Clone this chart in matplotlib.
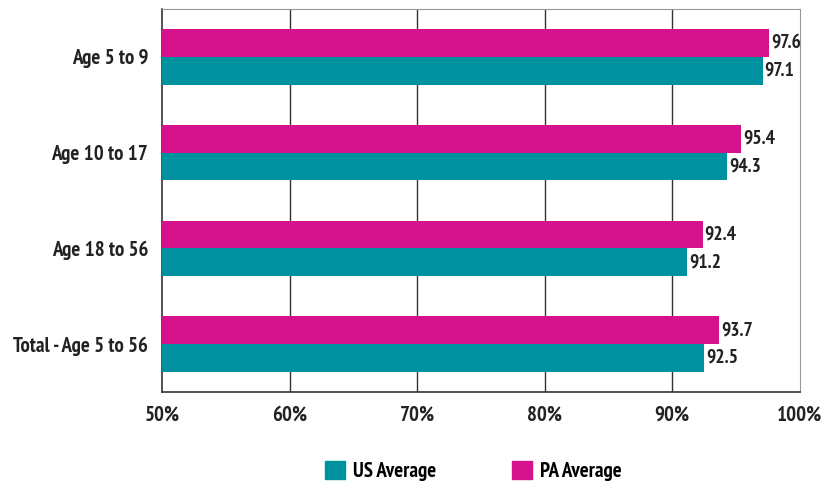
import numpy as np
import matplotlib
matplotlib.use('Agg')
import matplotlib.pyplot as plt
from matplotlib.patches import Patch

plt.rcParams['font.family'] = ['PT Sans Narrow', 'Roboto Condensed', 'DejaVu Sans']
plt.rcParams['font.weight'] = 'bold'

categories = ['Age 5 to 9', 'Age 10 to 17', 'Age 18 to 56', 'Total - Age 5 to 56']
us_avg = [97.1, 94.3, 91.2, 92.5]
pa_avg = [97.6, 95.4, 92.4, 93.7]
xticks = [50, 60, 70, 80, 90, 100]

teal = '#00919f'
pink = '#d5118b'

fig = plt.figure(figsize=(8.27, 4.87), dpi=100)
ax = fig.add_axes([0.196, 0.195, 0.771, 0.7865])

y = np.arange(len(categories))
h = 0.29
ax.barh(y + h / 2, us_avg, height=h, color=teal, zorder=3)
ax.barh(y - h / 2, pa_avg, height=h, color=pink, zorder=3)

for yi, v in zip(y, us_avg):
    ax.text(v + 0.15, yi + h / 2, f'{v:.1f}', va='center', ha='left', fontsize=14, color='#222222')
for yi, v in zip(y, pa_avg):
    ax.text(v + 0.15, yi - h / 2, f'{v:.1f}', va='center', ha='left', fontsize=14, color='#222222')

ax.set_xlim(50, 100)
ax.set_ylim(3.5, -0.5)
ax.set_xticks(xticks)
ax.set_xticklabels([f'{t}%' for t in xticks], fontsize=15)
ax.set_yticks(y)
ax.set_yticklabels(categories, fontsize=15)
ax.tick_params(axis='both', length=0, colors='#222222')
ax.tick_params(axis='x', pad=10)
ax.tick_params(axis='y', pad=10)
for t in xticks[1:-1]:
    ax.axvline(t, color='#333333', lw=1, zorder=1)
for s in ['top', 'right']:
    ax.spines[s].set_color('#999999')
for s in ['left', 'bottom']:
    ax.spines[s].set_color('#333333')
    ax.spines[s].set_linewidth(1.2)

handles = [Patch(color=teal, label='US Average'), Patch(color=pink, label='PA Average')]
fig.legend(handles=handles, loc='center', bbox_to_anchor=(0.572, 0.033), ncol=2, frameon=False,
           fontsize=15, handlelength=0.96, handleheight=0.95, columnspacing=3.65, handletextpad=0.38)

fig.savefig('out.png', dpi=100)
